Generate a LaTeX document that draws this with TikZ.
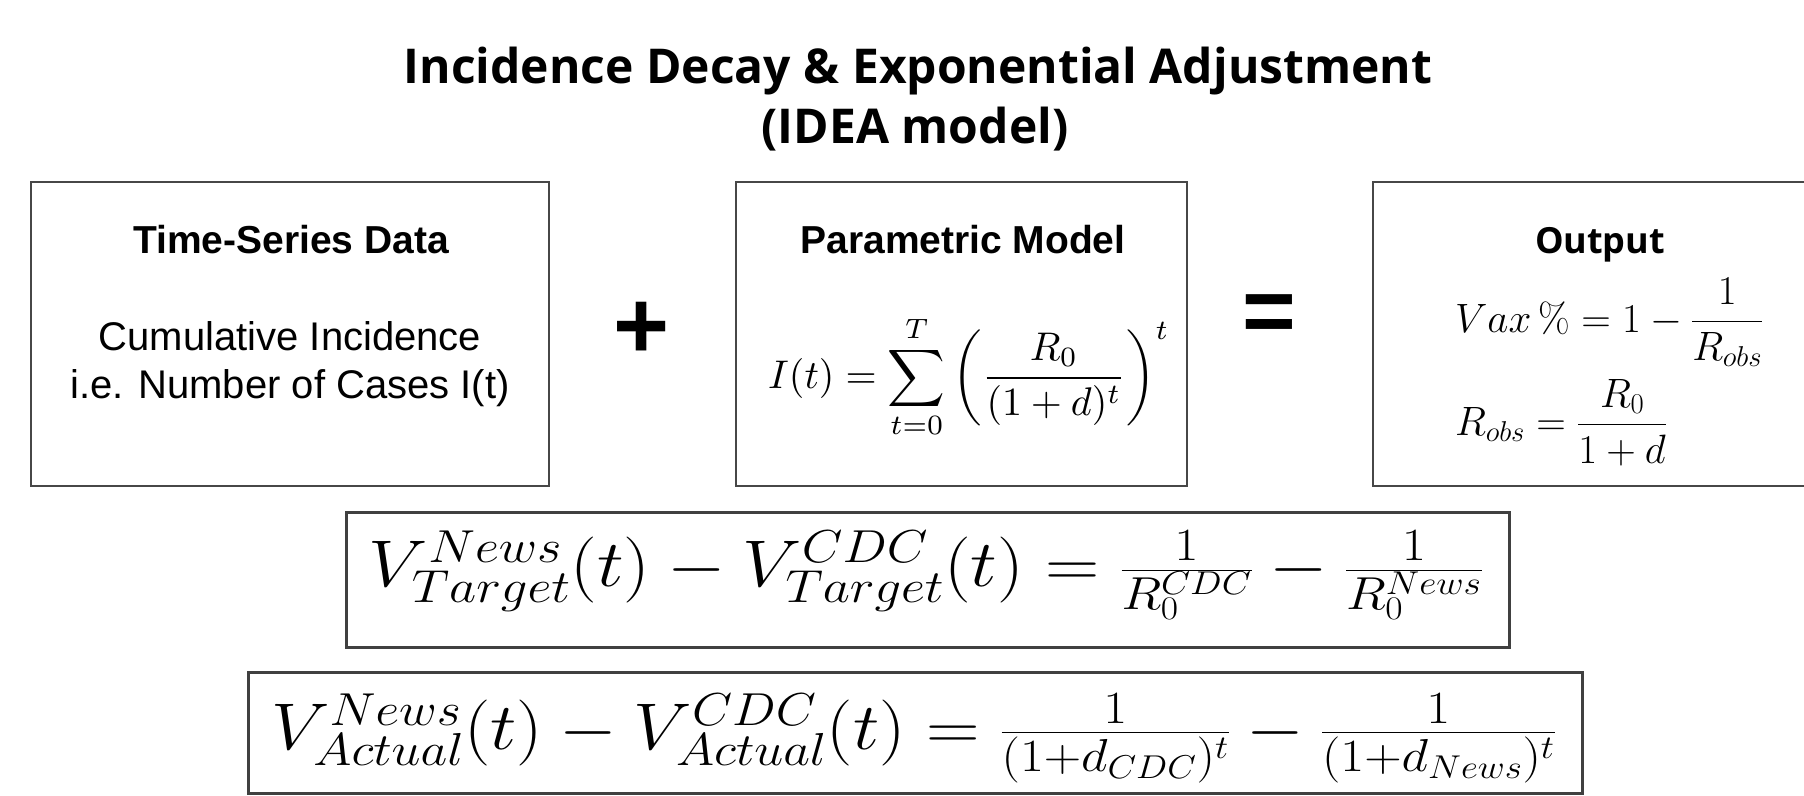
\RequirePackage{fix-cm}
\documentclass[tikz,border=0pt]{standalone}
\usepackage{amsmath}
\usepackage{graphicx}
\usepackage{fontspec}
\newfontfamily\arialf{Liberation Sans}
\newfontfamily\opensans{Open Sans}
\tikzset{
  panel/.style={draw=black!72, line width=2.6pt, inner sep=0pt},
  eqpanel/.style={draw=black!75, line width=3pt, inner sep=0pt},
  txt/.style={inner sep=0pt, anchor=base},
}
\begin{document}
\begin{tikzpicture}[x=1pt,y=-1pt]
\useasboundingbox (0,0) rectangle (1804,795);
\clip (0,0) rectangle (1804,795);
% title
\node[txt] (t1) at (918,83) {\opensans\bfseries\fontsize{48}{56}\selectfont Incidence Decay \& Exponential Adjustment};
\node[txt] (t2) at (915,143) {\opensans\bfseries\fontsize{48}{56}\selectfont (IDEA model)};
% boxes
\node[panel, minimum width=518pt, minimum height=304pt] (b1) at (290,334) {};
\node[panel, minimum width=451pt, minimum height=304pt] (b2) at (961.5,334) {};
\node[panel, minimum width=467pt, minimum height=304pt] (b3) at (1606.5,334) {};
\node[eqpanel, minimum width=1163pt, minimum height=135pt] (b4) at (927.5,579.5) {};
\node[eqpanel, minimum width=1334pt, minimum height=121pt] (b5) at (915,732.5) {};
% box 1
\node[txt] (h1) at (291,253) {\arialf\bfseries\fontsize{39}{47}\selectfont Time-Series Data};
\node[txt] (l1) at (290,350) {\arialf\fontsize{40}{48}\selectfont Cumulative Incidence};
\node[txt] (l2) at (290,398) {\arialf\fontsize{40}{48}\selectfont i.e. Number of Cases I(t)};
% plus and equals
\node[inner sep=0pt] (plus) at (642,330) {\arialf\bfseries\fontsize{96}{110}\selectfont +};
\node[inner sep=0pt] (eqs) at (1269,319) {\arialf\bfseries\fontsize{92}{110}\selectfont =};
% box 2
\node[txt] (h2) at (963,253) {\arialf\bfseries\fontsize{39}{47}\selectfont Parametric Model};
\node[txt] (f2) at (969,388) {\scalebox{4}{$\displaystyle I(t)=\sum_{t=0}^{T}\left(\frac{R_0}{(1+d)^t}\right)^{t}$}};
% box 3
\node[txt] (h3) at (1600,253) {\opensans\bfseries\fontsize{36}{44}\selectfont Output};
\node[txt, anchor=base west] (f3a) at (1455,332) {\fontsize{41}{48}\selectfont $\displaystyle Vax\,\% = 1-\frac{1}{R_{obs}}$};
\node[txt, anchor=base west] (f3b) at (1455,435) {\fontsize{41}{48}\selectfont $\displaystyle R_{obs}=\frac{R_0}{1+d}$};
% box 4
\node[txt] (f4) at (926,586.5) {\scalebox{1.14}[1]{\fontsize{66}{80}\selectfont $V^{News}_{Target}(t)-V^{CDC}_{Target}(t)=\frac{1}{R_0^{CDC}}-\frac{1}{R_0^{News}}$}};
% box 5
\node[txt] (f5) at (913.5,749) {\scalebox{1.124}[1]{\fontsize{66}{80}\selectfont $V^{News}_{Actual}(t)-V^{CDC}_{Actual}(t)=\frac{1}{(1{+}d_{CDC})^t}-\frac{1}{(1{+}d_{News})^t}$}};
\end{tikzpicture}
\end{document}
